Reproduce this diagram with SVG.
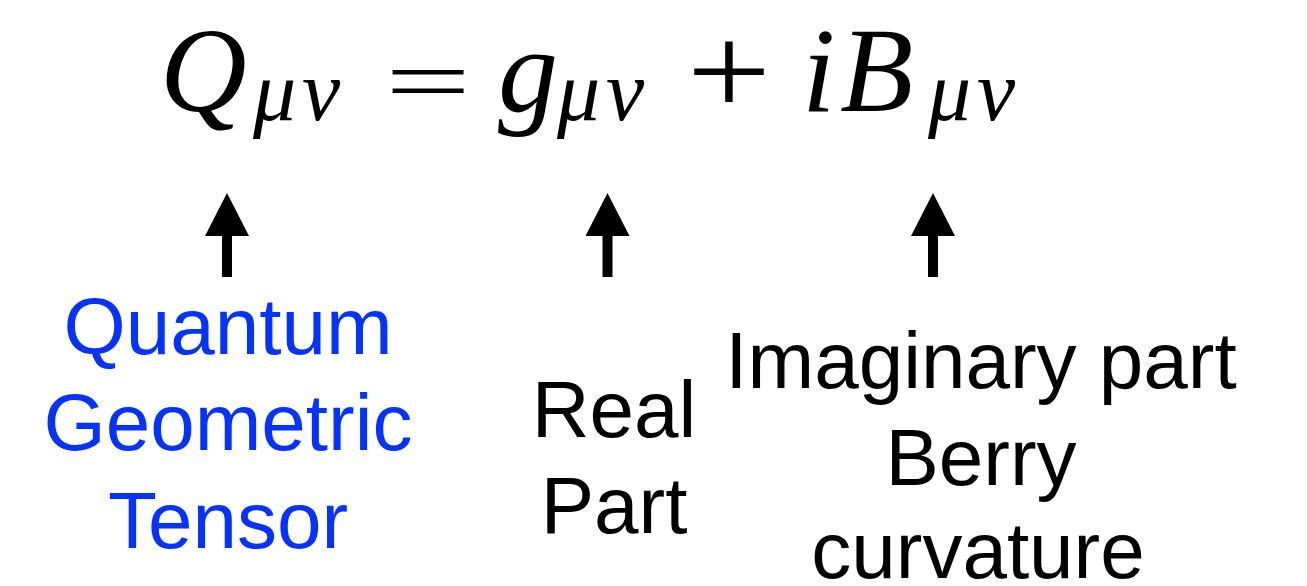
<svg xmlns="http://www.w3.org/2000/svg" width="1307" height="586" viewBox="0 0 1307 586">
<style>
.m{font-family:"Liberation Serif","Times New Roman",serif;font-style:italic;fill:#000}
.big{font-size:120px}
.sub{font-size:86px}
.op{font-family:"Liberation Serif","Times New Roman",serif;fill:#000;text-anchor:middle}
.lbl{font-family:"Liberation Sans",Arial,sans-serif;font-size:80px;text-anchor:middle;fill:#000}
.blue{fill:#0433ff}
.arrow{stroke:#000;stroke-width:10;fill:none}
</style>
<defs>
<marker id="ah" markerUnits="userSpaceOnUse" viewBox="0 -22 43 44" markerWidth="43" markerHeight="44" refX="0" refY="0" orient="auto">
<path d="M0,-22 L43,0 L0,22 Z" fill="#000"/>
</marker>
</defs>
<rect width="1307" height="586" fill="#fff"/>
<g id="equation">
<text class="m big" x="160" y="111">Q</text>
<text class="m sub" x="253" y="120">μ</text><text class="m sub" x="302" y="120">ν</text>
<text class="op" font-size="125" transform="translate(428,112) scale(1.22,0.72)">=</text>
<text class="m big" x="498" y="111">g</text>
<text class="m sub" x="557" y="120">μ</text><text class="m sub" x="606" y="120">ν</text>
<text class="op" font-size="130" transform="translate(729,115) scale(1.15,1)">+</text>
<text class="m big" x="802" y="111">i</text>
<text class="m big" x="840" y="111">B</text>
<text class="m sub" x="928" y="120">μ</text><text class="m sub" x="977" y="120">ν</text>
</g>
<g id="connectors">
<line class="arrow" x1="227" y1="277" x2="227" y2="236" marker-end="url(#ah)"/>
<line class="arrow" x1="607.5" y1="277" x2="607.5" y2="236" marker-end="url(#ah)"/>
<line class="arrow" x1="933" y1="277" x2="933" y2="236" marker-end="url(#ah)"/>
</g>
<g id="qgt">
<text class="lbl blue" x="228" y="354">Quantum</text>
<text class="lbl blue" x="228" y="450">Geometric</text>
<text class="lbl blue" x="228" y="548">Tensor</text>
</g>
<g id="real">
<text class="lbl" x="614" y="437">Real</text>
<text class="lbl" x="614" y="533">Part</text>
</g>
<g id="imag">
<text class="lbl" x="981" y="388">Imaginary part</text>
<text class="lbl" x="981" y="485">Berry</text>
<text class="lbl" x="978" y="578">curvature</text>
</g>
</svg>
